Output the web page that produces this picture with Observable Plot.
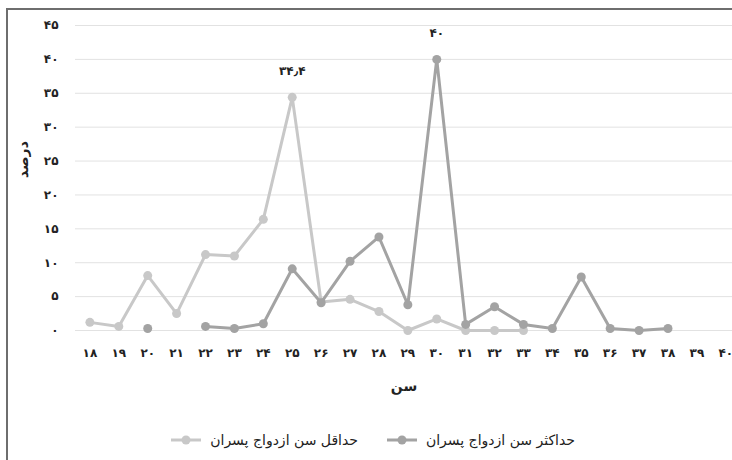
<!DOCTYPE html>
<html>
<head>
<meta charset="utf-8">
<script src="https://cdn.jsdelivr.net/npm/d3@7"></script>
<script src="https://cdn.jsdelivr.net/npm/@observablehq/plot@0.6"></script>
<style>
  html, body { margin: 0; padding: 0; background: #fff; }
  #wrap { position: relative; width: 732px; height: 460px; overflow: hidden; font-family: "DejaVu Sans", sans-serif; }
  #frame { position: absolute; left: 6px; top: 8px; width: 800px; height: 500px; border-left: 2px solid #6e6e6e; border-top: 2px solid #6e6e6e; }
  #chart { position: absolute; left: 0; top: 0; }
  .leg { position: absolute; top: 432px; display: flex; flex-direction: row; align-items: center; gap: 9px; font-size: 14px; color: #222; direction: rtl; white-space: nowrap; }
</style>
</head>
<body>
<div id="wrap">
  <div id="frame"></div>
  <div id="chart"></div>
  <div class="leg" id="legMax" style="right:157px"></div>
  <div class="leg" id="legMin" style="right:374px"></div>
</div>
<script>
// ---- data ----
const ages = [18, 19, 20, 21, 22, 23, 24, 25, 26, 27, 28, 29, 30, 31, 32, 33, 34, 35, 36, 37, 38, 39, 40];
const minAge = [1.2, 0.6, 8.1, 2.5, 11.2, 11.0, 16.4, 34.4, 4.2, 4.6, 2.8, 0, 1.7, 0, 0, 0, null, null, null, null, null, null, null];
const maxAge = [null, null, 0.3, null, 0.6, 0.3, 1.0, 9.1, 4.1, 10.2, 13.8, 3.8, 40, 0.9, 3.5, 0.9, 0.3, 7.9, 0.3, 0, 0.3, null, null];
const yTicks = [0, 5, 10, 15, 20, 25, 30, 35, 40, 45];
const seriesNames = ["حداقل سن ازدواج پسران", "حداکثر سن ازدواج پسران"];
const seriesColors = ["#c8c8c8", "#a3a3a3"];
const labelAges = [25, 30];
const labelValues = [34.4, 40];
const labelTexts = ["۳۴٫۴", "۴۰"];
const xTitle = "سن";
const yTitle = "درصد";

const toFa = s => String(s).replace(/\d/g, d => "۰۱۲۳۴۵۶۷۸۹"[d]);
const minRows = ages.map((a, i) => ({age: a, v: minAge[i]}));
const maxRows = ages.map((a, i) => ({age: a, v: maxAge[i]}));
const labelRows = labelAges.map((a, i) => ({age: a, v: labelValues[i], t: labelTexts[i]}));

const chart = Plot.plot({
  width: 732,
  height: 420,
  marginLeft: 75,
  marginRight: 0,
  marginTop: 25,
  marginBottom: 90,
  style: {fontFamily: "DejaVu Sans, sans-serif", fontSize: "12px", color: "#222", background: "transparent", overflow: "visible"},
  x: {type: "point", domain: ages, range: [89.4, 725.3], padding: 0, round: false},
  y: {domain: [0, 45]},
  marks: [
    Plot.ruleY(yTicks, {stroke: "#e2e2e2", strokeWidth: 1}),
    Plot.axisY(yTicks, {tickSize: 0, tickPadding: 17, tickFormat: toFa, label: null, fontWeight: "bold"}),
    Plot.axisX(ages, {tickSize: 0, tickPadding: 18, tickFormat: toFa, label: null, fontWeight: "bold"}),
    Plot.text([xTitle], {frameAnchor: "bottom", dy: 60, fontSize: 14, fontWeight: "bold", fill: "#222"}),
    Plot.text([yTitle], {frameAnchor: "left", dx: -52, rotate: -90, fontSize: 14, fontWeight: "bold", fill: "#222"}),
    Plot.line(minRows, {x: "age", y: "v", stroke: seriesColors[0], strokeWidth: 3}),
    Plot.dot(minRows, {x: "age", y: "v", r: 4.5, fill: seriesColors[0]}),
    Plot.line(maxRows, {x: "age", y: "v", stroke: seriesColors[1], strokeWidth: 3}),
    Plot.dot(maxRows, {x: "age", y: "v", r: 4.5, fill: seriesColors[1]}),
    Plot.text(labelRows, {x: "age", y: "v", text: "t", dy: -26, fontSize: 12, fontWeight: "bold", fill: "#222"})
  ]
});
document.getElementById("chart").appendChild(chart);

function legendItem(el, name, color) {
  const txt = document.createElement("span");
  txt.textContent = name;
  const sw = document.createElementNS("http://www.w3.org/2000/svg", "svg");
  sw.setAttribute("width", 30); sw.setAttribute("height", 10);
  sw.innerHTML = `<line x1="0" y1="5" x2="30" y2="5" stroke="${color}" stroke-width="3"/><circle cx="15" cy="5" r="4.5" fill="${color}"/>`;
  el.appendChild(txt);
  el.appendChild(sw);
}
legendItem(document.getElementById("legMax"), seriesNames[1], seriesColors[1]);
legendItem(document.getElementById("legMin"), seriesNames[0], seriesColors[0]);
</script>
</body>
</html>
